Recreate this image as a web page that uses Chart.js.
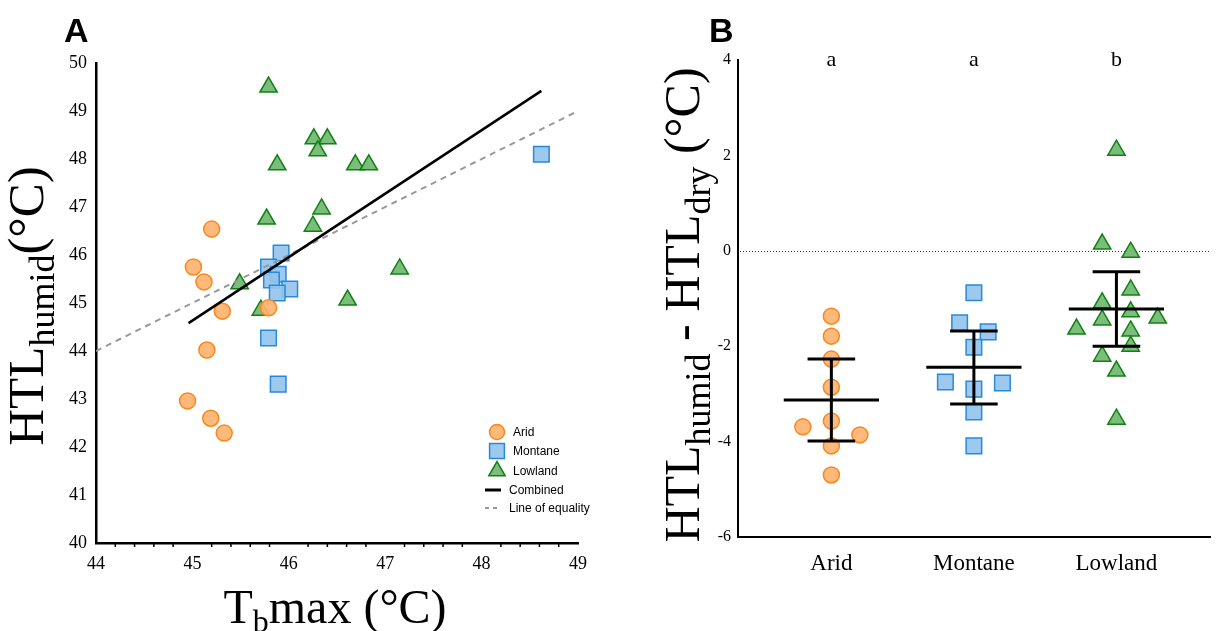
<!DOCTYPE html>
<html>
<head>
<meta charset="utf-8">
<script src="https://cdn.jsdelivr.net/npm/chart.js@4.4.1/dist/chart.umd.min.js"></script>
<style>
body { margin: 0; background: #fff; }
.panel { position: absolute; top: 0; height: 631px; }
#wrapA { left: 0; width: 620px; }
#wrapB { left: 620px; width: 603px; }
</style>
</head>
<body>
<div class="panel" id="wrapA"><canvas id="chartA" width="620" height="631"></canvas></div>
<div class="panel" id="wrapB"><canvas id="chartB" width="603" height="631"></canvas></div>
<script>
// ---- panel A : Tb max vs HTL humid ----
const aridTb   = [45.20, 45.01, 45.12, 45.31, 45.79, 45.15, 44.95, 45.19, 45.33];
const aridHtl  = [46.54, 45.75, 45.44, 44.83, 44.90, 44.02, 42.96, 42.60, 42.29];
const montTb   = [45.92, 45.79, 45.89, 45.82, 46.01, 45.88, 45.79, 45.89, 48.62];
const montHtl  = [46.04, 45.75, 45.60, 45.48, 45.29, 45.21, 44.27, 43.31, 48.10];
const lowTb    = [45.79, 46.26, 46.40, 46.30, 45.88, 46.69, 46.83, 46.34, 45.77, 46.25, 45.49, 45.71, 46.61, 47.15];
const lowHtl   = [49.50, 48.42, 48.42, 48.17, 47.88, 47.88, 47.88, 46.96, 46.75, 46.60, 45.40, 44.85, 45.06, 45.71];
const combinedX = [44.96, 48.62];
const combinedY = [44.58, 49.42];
const equalityX = [44, 49];

// ---- panel B : HTL humid - HTL dry ----
const groups = ['Arid', 'Montane', 'Lowland'];
const sigLetters = ['a', 'a', 'b'];
const aridDiff  = [-1.37, -1.79, -2.27, -2.86, -3.57, -3.69, -3.86, -4.09, -4.70];
const aridJit   = [0, 0, 0, 0, 0, -0.2, 0.2, 0, 0];
const montDiff  = [-0.88, -1.51, -1.70, -2.02, -2.75, -2.77, -2.90, -3.38, -4.09];
const montJit   = [0, -0.1, 0.1, 0, -0.2, 0.2, 0, 0, 0];
const lowDiff   = [2.11, 0.14, -0.03, -0.82, -1.09, -1.28, -1.45, -1.41, -1.64, -1.68, -2.00, -2.21, -2.52, -3.53];
const lowJit    = [0, -0.1, 0.1, 0.1, -0.1, 0.1, -0.1, 0.29, -0.28, 0.1, 0.1, -0.1, 0, 0];
const groupMean  = [-3.13, -2.44, -1.22];
const groupUpper = [-2.27, -1.68, -0.44];
const groupLower = [-3.99, -3.21, -2.00];

const SERIF = "'Liberation Serif', 'Times New Roman', serif";
const SANS = "'Liberation Sans', Arial, sans-serif";

const orange = { fill: 'rgba(255,180,112,0.92)', line: 'rgb(250,135,30)' };
const blue   = { fill: 'rgba(148,196,236,0.92)', line: 'rgb(40,138,215)' };
const green  = { fill: 'rgba(112,184,112,0.92)', line: 'rgb(18,128,18)' };

function pts(xs, ys) { return xs.map((x, i) => ({ x: x, y: ys[i] })); }

// draw text made of pieces, some of them subscript
function drawRich(ctx, parts, size, subSize, subDrop) {
  let w = 0;
  parts.forEach(p => {
    ctx.font = (p.sub ? subSize : size) + 'px ' + SERIF;
    p.w = ctx.measureText(p.t).width;
    w += p.w;
  });
  let x = -w / 2;
  parts.forEach(p => {
    ctx.font = (p.sub ? subSize : size) + 'px ' + SERIF;
    ctx.fillText(p.t, x, p.sub ? subDrop : 0);
    x += p.w;
  });
}

const panelA = {
  id: 'panelA',
  afterDraw(chart) {
    const ctx = chart.ctx;
    const xs = chart.scales.x;
    ctx.save();
    // minor ticks
    ctx.strokeStyle = '#000';
    ctx.lineWidth = 1.5;
    for (let v = 44; v < 49; v += 1) {
      for (let k = 1; k < 5; k++) {
        const px = xs.getPixelForValue(v + k * 0.2);
        ctx.beginPath();
        ctx.moveTo(px, xs.top);
        ctx.lineTo(px, xs.top + 4);
        ctx.stroke();
      }
    }
    ctx.fillStyle = '#000';
    ctx.textAlign = 'left';
    ctx.textBaseline = 'alphabetic';
    // panel letter
    ctx.font = 'bold 34px ' + SANS;
    ctx.fillText('A', 64, 42);
    // x title
    ctx.save();
    ctx.translate(335, 623);
    drawRich(ctx, [{ t: 'T' }, { t: 'b', sub: true }, { t: 'max (°C)' }], 48, 32, 9);
    ctx.restore();
    // y title
    ctx.save();
    ctx.translate(43, 306);
    ctx.rotate(-Math.PI / 2);
    drawRich(ctx, [{ t: 'HTL' }, { t: 'humid', sub: true }, { t: '(°C)' }], 51, 36, 11);
    ctx.restore();
    // legend
    const items = [
      { label: 'Arid', style: 'circle', c: orange, r: 7.5 },
      { label: 'Montane', style: 'rect', c: blue, r: 10.5 },
      { label: 'Lowland', style: 'triangle', c: green, r: 9.5 },
      { label: 'Combined', line: '#000', dash: [] },
      { label: 'Line of equality', line: '#999', dash: [4, 4] }
    ];
    const rowY = [432, 451, 471, 490, 508];
    ctx.font = '12px ' + SANS;
    ctx.textBaseline = 'middle';
    items.forEach((it, i) => {
      const y = rowY[i];
      if (it.style) {
        ctx.fillStyle = it.c.fill;
        ctx.strokeStyle = it.c.line;
        ctx.lineWidth = 1.5;
        Chart.helpers.drawPoint(ctx, { pointStyle: it.style, radius: it.r, borderWidth: 1.5, rotation: 0 }, 497, y);
        ctx.fillStyle = '#000';
        ctx.fillText(it.label, 513, y + 1);
      } else {
        ctx.strokeStyle = it.line;
        ctx.lineWidth = it.dash.length ? 2 : 3;
        ctx.setLineDash(it.dash);
        ctx.beginPath();
        ctx.moveTo(485, y);
        ctx.lineTo(501, y);
        ctx.stroke();
        ctx.setLineDash([]);
        ctx.fillStyle = '#000';
        ctx.fillText(it.label, 509, y + 1);
      }
    });
    ctx.restore();
  }
};

new Chart(document.getElementById('chartA'), {
  type: 'scatter',
  data: {
    datasets: [
      { label: 'Combined', type: 'line', data: pts(combinedX, combinedY), borderColor: '#000', borderWidth: 2.5, pointRadius: 0, fill: false },
      { label: 'Line of equality', type: 'line', data: pts(equalityX, equalityX), borderColor: '#999', borderWidth: 2, borderDash: [6, 5], pointRadius: 0, fill: false },
      { label: 'Arid', data: pts(aridTb, aridHtl), pointStyle: 'circle', pointRadius: 8, backgroundColor: orange.fill, borderColor: orange.line, borderWidth: 1.5 },
      { label: 'Montane', data: pts(montTb, montHtl), pointStyle: 'rect', pointRadius: 11, backgroundColor: blue.fill, borderColor: blue.line, borderWidth: 1.5 },
      { label: 'Lowland', data: pts(lowTb, lowHtl), pointStyle: 'triangle', pointRadius: 10, backgroundColor: green.fill, borderColor: green.line, borderWidth: 1.5 }
    ]
  },
  options: {
    responsive: false,
    animation: false,
    layout: { padding: { top: 63, right: 42, left: 0, bottom: 0 } },
    plugins: { legend: { display: false }, tooltip: { enabled: false } },
    scales: {
      x: {
        type: 'linear', min: 44, max: 49,
        ticks: { stepSize: 1, color: '#000', font: { family: SERIF, size: 18 }, padding: 3 },
        grid: { display: false, drawTicks: true, tickLength: 7, tickColor: '#000', tickWidth: 1.5 },
        border: { display: true, color: '#000', width: 2.5 },
        afterFit: s => { s.height = 88; }
      },
      y: {
        min: 40, max: 50,
        ticks: { stepSize: 1, color: '#000', font: { family: SERIF, size: 18 }, padding: 2 },
        grid: { display: false, drawTicks: true, tickLength: 7, tickColor: '#000', tickWidth: 1.5 },
        border: { display: true, color: '#000', width: 2.5 },
        afterFit: s => { s.width = 96; }
      }
    }
  },
  plugins: [panelA]
});

// ---- panel B ----
function errorBarPoints() {
  const out = [];
  const gap = i => ({ x: i, y: null });
  groups.forEach((g, i) => {
    out.push({ x: i - 0.334, y: groupMean[i] }, { x: i + 0.334, y: groupMean[i] }, gap(i));
    out.push({ x: i - 0.167, y: groupUpper[i] }, { x: i + 0.167, y: groupUpper[i] }, gap(i));
    out.push({ x: i, y: groupUpper[i] }, { x: i, y: groupLower[i] }, gap(i));
    out.push({ x: i - 0.167, y: groupLower[i] }, { x: i + 0.167, y: groupLower[i] }, gap(i));
  });
  return out;
}
function groupPts(idx, vals, jit) { return vals.map((v, i) => ({ x: idx + jit[i], y: v })); }

const panelB = {
  id: 'panelB',
  beforeDatasetsDraw(chart) {
    const ctx = chart.ctx;
    const ys = chart.scales.y;
    const y0 = Math.round(ys.getPixelForValue(0)) + 0.5;
    ctx.save();
    ctx.strokeStyle = '#333';
    ctx.lineWidth = 1;
    ctx.setLineDash([1, 2]);
    ctx.beginPath();
    ctx.moveTo(chart.chartArea.left + 2, y0);
    ctx.lineTo(chart.chartArea.right, y0);
    ctx.stroke();
    ctx.restore();
  },
  afterDraw(chart) {
    const ctx = chart.ctx;
    const xs = chart.scales.x;
    ctx.save();
    ctx.fillStyle = '#000';
    ctx.textBaseline = 'alphabetic';
    ctx.textAlign = 'left';
    ctx.font = 'bold 34px ' + SANS;
    ctx.fillText('B', 89, 42);
    ctx.textAlign = 'center';
    ctx.font = '22px ' + SERIF;
    sigLetters.forEach((l, i) => ctx.fillText(l, xs.getPixelForValue(i), 66));
    ctx.textAlign = 'left';
    ctx.save();
    ctx.translate(79, 305);
    ctx.rotate(-Math.PI / 2);
    drawRich(ctx, [{ t: 'HTL' }, { t: 'humid', sub: true }, { t: ' - HTL' }, { t: 'dry', sub: true }, { t: ' (°C)' }], 50, 36, 11);
    ctx.restore();
    ctx.restore();
  }
};

new Chart(document.getElementById('chartB'), {
  type: 'scatter',
  data: {
    datasets: [
      { label: 'mean ± SD', type: 'line', data: errorBarPoints(), borderColor: '#000', borderWidth: 3, pointRadius: 0, spanGaps: false, fill: false },
      { label: 'Arid', data: groupPts(0, aridDiff, aridJit), pointStyle: 'circle', pointRadius: 8, backgroundColor: orange.fill, borderColor: orange.line, borderWidth: 1.5 },
      { label: 'Montane', data: groupPts(1, montDiff, montJit), pointStyle: 'rect', pointRadius: 11, backgroundColor: blue.fill, borderColor: blue.line, borderWidth: 1.5 },
      { label: 'Lowland', data: groupPts(2, lowDiff, lowJit), pointStyle: 'triangle', pointRadius: 10, backgroundColor: green.fill, borderColor: green.line, borderWidth: 1.5 }
    ]
  },
  options: {
    responsive: false,
    animation: false,
    layout: { padding: { top: 60, right: 8, left: 0, bottom: 0 } },
    plugins: { legend: { display: false }, tooltip: { enabled: false } },
    scales: {
      x: {
        type: 'linear', min: -0.655, max: 2.66,
        afterBuildTicks: s => { s.ticks = groups.map((g, i) => ({ value: i })); },
        ticks: { color: '#000', font: { family: SERIF, size: 23 }, padding: 6, callback: v => groups[v] },
        grid: { display: false, drawTicks: true, tickLength: 7, tickColor: '#000', tickWidth: 1.5 },
        border: { display: true, color: '#000', width: 2 },
        afterFit: s => { s.height = 94; }
      },
      y: {
        min: -6, max: 4,
        ticks: { stepSize: 2, color: '#000', font: { family: SERIF, size: 16 }, padding: 1 },
        grid: { display: false, drawTicks: true, tickLength: 6, tickColor: '#000', tickWidth: 1.5 },
        border: { display: true, color: '#000', width: 2 },
        afterFit: s => { s.width = 118; }
      }
    }
  },
  plugins: [panelB]
});
</script>
</body>
</html>
